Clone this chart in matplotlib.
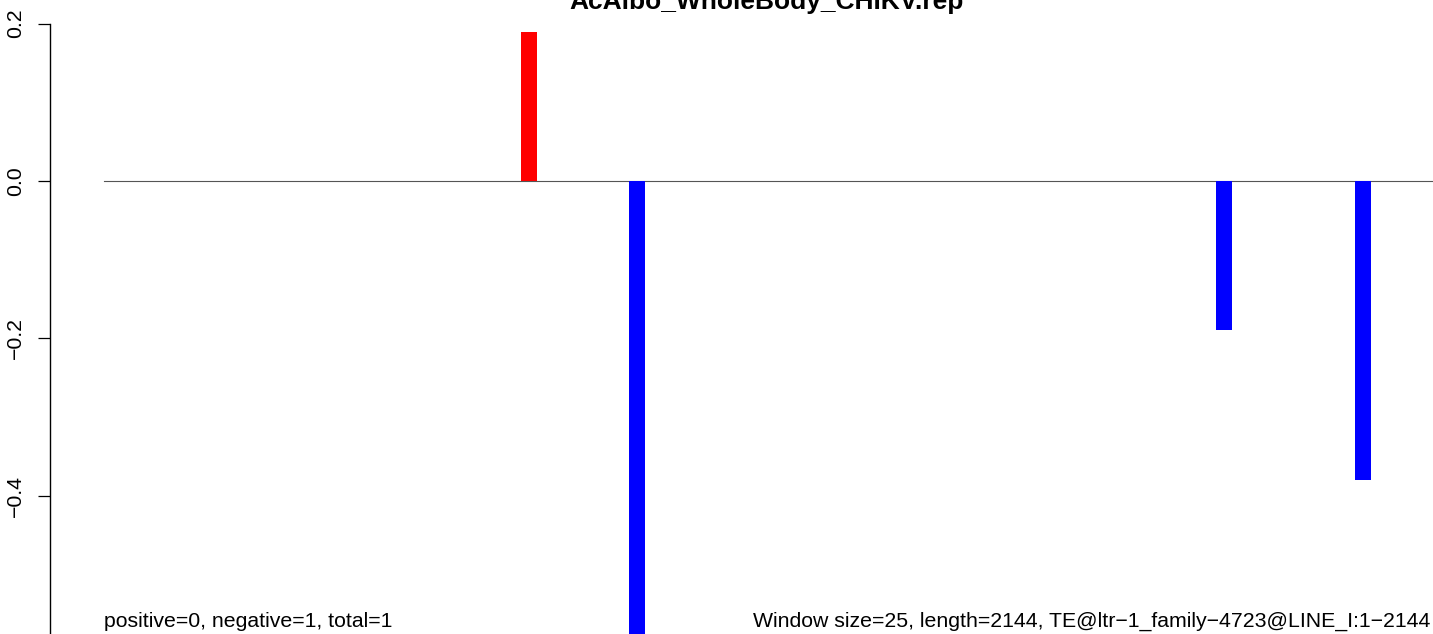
import matplotlib
matplotlib.use("Agg")
import matplotlib.pyplot as plt

plt.rcParams['font.family'] = ['Liberation Sans', 'DejaVu Sans']

# window data (bp start of each window, score)
win_size = 25
seq_len = 2144
win_starts = [652, 820, 1737, 1955]
scores = [0.189, -0.76, -0.19, -0.38]
bar_colors = ['red' if s > 0 else 'blue' for s in scores]
y_ticks = [-0.6, -0.4, -0.2, 0.0, 0.2]

title = "AcAlbo_WholeBody_CHIKV.rep"
left_note = "positive=0, negative=1, total=1"
right_note = "Window size=25, length=2144, TE@ltr\u22121_family\u22124723@LINE_I:1\u22122144"

W, H = 1433, 634
fig = plt.figure(figsize=(W / 100, H / 100), dpi=100)
ax = fig.add_axes([50 / W, 0, 1 - 50 / W, 1])

# zero line along the whole sequence
ax.plot([0, seq_len], [0, 0], color='#555555', lw=0.8, zorder=1)
ax.bar(win_starts, scores, width=win_size, align='edge', color=bar_colors,
       linewidth=0, zorder=2)

for s in ['top', 'right', 'bottom']:
    ax.spines[s].set_visible(False)
ax.spines['left'].set_bounds(-0.6, 0.2)
ax.spines['left'].set_linewidth(1.0)
ax.set_xticks([])
ax.set_yticks(y_ticks)
ax.set_yticklabels([f"{v:.1f}".replace("-", "\u2212") for v in y_ticks],
                   rotation=90, va='center')
ax.tick_params(axis='y', length=9, width=0.9, pad=9, labelsize=15.3)

# limits after ticks, so the -0.6 tick does not widen the view
ax.set_xlim(-84.4, 2076.6)
ax.set_ylim(-0.5758, 0.2301)

fig.text(767 / W, 1 - 9 / H, title, ha='center', va='baseline',
         fontsize=19, fontweight='bold')
fig.text(104 / W, 7 / H, left_note, ha='left', va='baseline', fontsize=15.3)
fig.text(1430 / W, 7 / H, right_note, ha='right', va='baseline', fontsize=15.3)

fig.savefig("out.png", dpi=100)
